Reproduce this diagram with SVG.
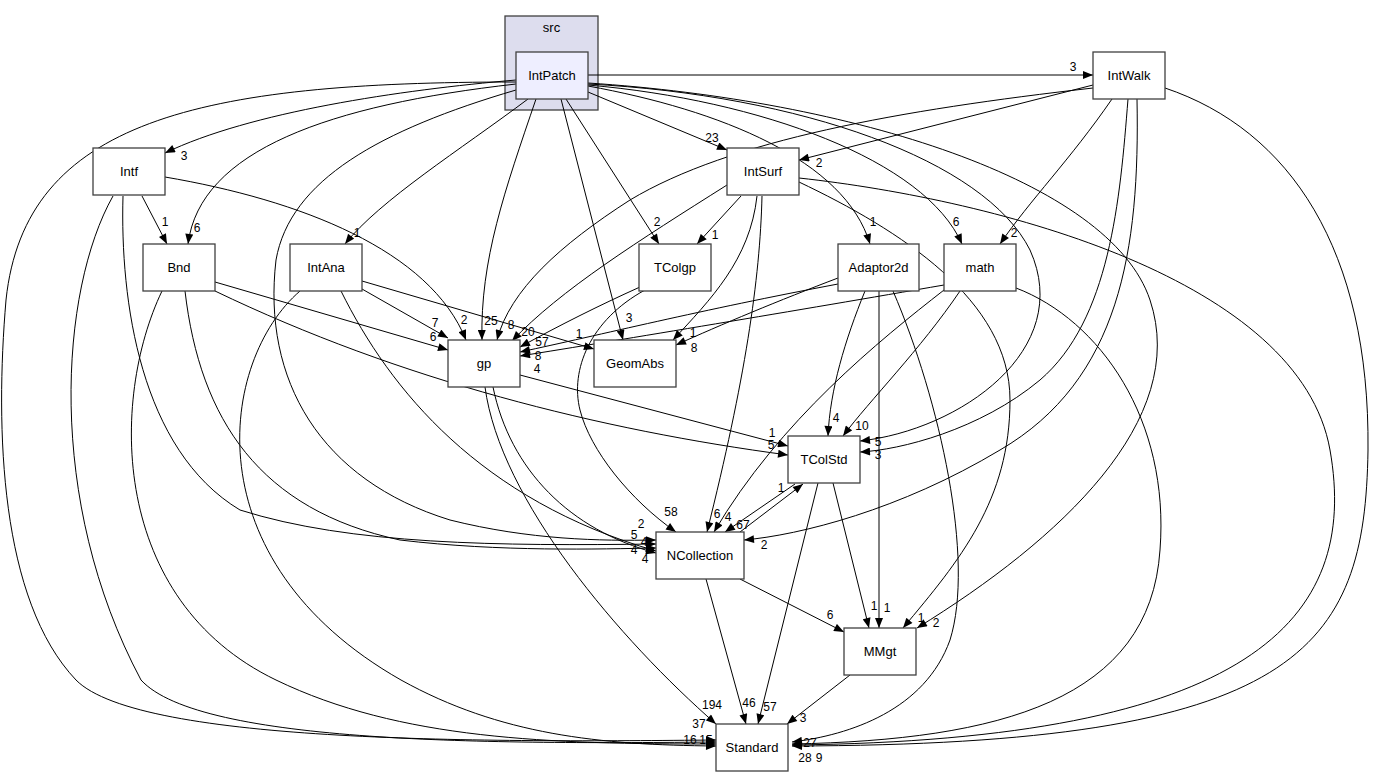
<svg xmlns="http://www.w3.org/2000/svg" width="1376" height="777" viewBox="0 0 1376 777">
<style>
.n rect{fill:#fff;stroke:#404040;stroke-width:1.3}
.n text,.c text{font-family:"Liberation Sans",Arial,sans-serif;font-size:13px;text-anchor:middle;fill:#000}
.e path{fill:none;stroke:#000;stroke-width:1;marker-end:url(#ah)}
.e text{font-family:"Liberation Sans",Arial,sans-serif;font-size:12px;text-anchor:middle;fill:#000}
</style>
<defs>
<marker id="ah" viewBox="0 0 10 8" refX="10" refY="4" markerWidth="11" markerHeight="8" orient="auto" markerUnits="userSpaceOnUse"><path d="M0,0 L10,4 L0,8 z" fill="#000"/></marker>
</defs>
<rect width="1376" height="777" fill="#fff"/>
<g id="cluster_src" class="c">
<rect x="505" y="16" width="93" height="94" fill="#ddddee" stroke="#404040" stroke-width="1.3"/>
<text x="551.5" y="32">src</text>
</g>
<g class="e" id="edges">
<!-- IntPatch -->
<path d="M588,75 L1093,75"/><text x="1073" y="71">3</text>
<path d="M516,80 C400,90 250,112 165,153"/><text x="184" y="160">3</text>
<path d="M516,84 C330,105 200,150 188,244"/><text x="197" y="232">6</text>
<path d="M528,99 C460,150 380,200 345,244"/><text x="357" y="237">1</text>
<path d="M536,99 C505,190 480,260 482,340"/><text x="491" y="325">25</text>
<path d="M561,99 L623,340"/><text x="629" y="322">3</text>
<path d="M566,99 L659,244"/><text x="657" y="226">2</text>
<path d="M588,92 L727,150"/><text x="712" y="142">23</text>
<path d="M588,86 C720,110 845,160 870,244"/><text x="873" y="226">1</text>
<path d="M588,85 C760,100 925,160 962,244"/><text x="956" y="226">6</text>
<path d="M588,84 C800,95 985,160 1030,250 C1075,350 960,430 860,441"/><text x="878" y="446">5</text>
<path d="M588,83 C850,100 1110,180 1150,300 C1190,420 1060,540 917,628"/><text x="936" y="627">2</text>
<path d="M516,90 C380,130 290,180 276,260 C262,380 320,480 450,520 C530,540 600,541 656,540"/><text x="641" y="528">2</text>
<path d="M516,82 C200,82 25,120 6,300 C-5,430 0,600 76,680 C140,745 500,742 716,740"/><text x="699" y="728">37</text>
<!-- IntWalk -->
<path d="M1093,85 L799,160"/><text x="819" y="167">2</text>
<path d="M1112,99 C1070,160 1030,200 1000,244"/><text x="1014" y="237">2</text>
<path d="M1093,88 C900,110 730,140 630,200 C560,245 510,290 497,340"/><text x="511" y="329">8</text>
<path d="M1128,99 C1120,200 1110,320 1040,380 C980,430 900,450 860,452"/><text x="878" y="459">3</text>
<path d="M1137,99 C1140,250 1120,380 1000,450 C900,510 800,535 744,540"/><text x="764" y="549">2</text>
<path d="M1165,88 C1290,130 1370,250 1368,450 C1365,650 1300,745 792,746"/>
<!-- Intf -->
<path d="M142,196 L167,244"/><text x="165" y="226">1</text>
<path d="M165,177 C300,200 430,250 466,340"/><text x="464" y="324">2</text>
<path d="M123,196 C120,300 140,450 240,510 C350,545 500,546 656,544"/><text x="634" y="539">5</text>
<path d="M113,196 C60,290 45,500 141,680 C200,745 500,744 716,742"/>
<!-- Bnd -->
<path d="M215,282 L448,350"/><text x="433" y="341">6</text>
<path d="M215,291 C400,380 600,430 788,455"/><text x="771" y="449">5</text>
<path d="M185,291 C200,420 260,510 400,540 C500,552 600,549 656,548"/><text x="644" y="546">4</text>
<path d="M162,291 C110,400 110,600 276,680 C400,740 550,744 716,744"/>
<!-- IntAna -->
<path d="M362,289 L448,338"/><text x="435" y="327">7</text>
<path d="M362,281 L594,349"/><text x="579" y="338">1</text>
<path d="M341,291 C390,390 480,500 656,551"/><text x="634" y="554">4</text>
<path d="M300,291 C220,360 190,560 401,680 C500,735 600,745 716,746"/><text x="690" y="744">16</text><text x="706" y="744">15</text>
<!-- IntSurf -->
<path d="M741,196 L697,244"/><text x="715" y="239">1</text>
<path d="M757,196 C750,260 710,300 673,340"/><text x="693" y="337">1</text>
<path d="M762,196 C760,280 745,380 707,532"/><text x="717" y="518">6</text>
<path d="M727,185 C640,240 560,290 512,341"/><text x="528" y="336">20</text>
<path d="M799,182 C900,230 1010,300 1010,400 C1010,500 960,560 903,628"/><text x="921" y="622">1</text>
<path d="M799,178 C1000,200 1300,280 1330,450 C1360,620 1250,740 792,745"/><text x="810" y="747">27</text>
<!-- TColgp -->
<path d="M640,287 C600,305 560,325 520,347"/><text x="542" y="346">57</text>
<path d="M645,290 C590,320 570,370 580,410 C590,450 630,500 676,532"/><text x="671" y="516">58</text>
<!-- Adaptor2d -->
<path d="M838,278 C780,300 720,325 676,345"/><text x="694" y="352">8</text>
<path d="M838,284 C700,310 600,335 520,352"/><text x="538" y="360">8</text>
<path d="M865,291 C845,340 830,390 828,436"/><text x="836" y="422">4</text>
<path d="M879,291 L879,628"/><text x="887" y="612">1</text>
<path d="M893,291 C940,400 975,560 950,640 C925,710 850,735 792,742"/><text x="805" y="762">28</text>
<!-- math -->
<path d="M944,285 C800,310 620,340 520,356"/><text x="537" y="373">4</text>
<path d="M960,291 C920,350 870,400 843,436"/><text x="862" y="430">10</text>
<path d="M944,290 C880,340 780,420 714,532"/><text x="728" y="521">4</text>
<path d="M1016,288 C1100,320 1170,420 1160,550 C1150,700 1000,740 792,744"/><text x="819" y="762">9</text>
<!-- gp -->
<path d="M520,375 L788,446"/><text x="772" y="437">1</text>
<path d="M493,387 C510,470 570,530 656,553"/><text x="645" y="563">4</text>
<path d="M485,387 C500,500 620,640 716,724"/><text x="712" y="709">194</text>
<!-- TColStd -->
<path d="M795,484 L725,532"/><text x="743" y="529">67</text>
<path d="M818,483 L758,724"/><text x="770" y="711">57</text>
<path d="M833,483 L869,628"/><text x="874" y="610">1</text>
<!-- NCollection -->
<path d="M740,532 L803,484"/><text x="781" y="492">1</text>
<path d="M706,579 L746,724"/><text x="749" y="707">46</text>
<path d="M740,579 L844,632"/><text x="830" y="619">6</text>
<!-- MMgt -->
<path d="M850,675 L787,724"/><text x="803" y="722">3</text>
</g>
<g id="IntPatch" class="n"><rect x="516" y="52" width="72" height="47" style="fill:#eeeeff"/><text x="552" y="80">IntPatch</text></g>
<g id="IntWalk" class="n"><rect x="1093" y="52" width="72" height="47"/><text x="1129" y="80">IntWalk</text></g>
<g id="Intf" class="n"><rect x="93" y="148" width="72" height="47"/><text x="129" y="176">Intf</text></g>
<g id="IntSurf" class="n"><rect x="727" y="148" width="72" height="47"/><text x="763" y="176">IntSurf</text></g>
<g id="Bnd" class="n"><rect x="143" y="244" width="72" height="47"/><text x="179" y="272">Bnd</text></g>
<g id="IntAna" class="n"><rect x="290" y="244" width="72" height="47"/><text x="326" y="272">IntAna</text></g>
<g id="TColgp" class="n"><rect x="639" y="244" width="72" height="47"/><text x="675" y="272">TColgp</text></g>
<g id="Adaptor2d" class="n"><rect x="838" y="244" width="81" height="47"/><text x="878.5" y="272">Adaptor2d</text></g>
<g id="math" class="n"><rect x="944" y="244" width="72" height="47"/><text x="980" y="272">math</text></g>
<g id="gp" class="n"><rect x="448" y="340" width="72" height="47"/><text x="484" y="368">gp</text></g>
<g id="GeomAbs" class="n"><rect x="594" y="340" width="82" height="47"/><text x="635" y="368">GeomAbs</text></g>
<g id="TColStd" class="n"><rect x="788" y="436" width="72" height="47"/><text x="824" y="464">TColStd</text></g>
<g id="NCollection" class="n"><rect x="656" y="532" width="88" height="47"/><text x="700" y="560">NCollection</text></g>
<g id="MMgt" class="n"><rect x="844" y="628" width="72" height="47"/><text x="880" y="656">MMgt</text></g>
<g id="Standard" class="n"><rect x="716" y="724" width="72" height="47"/><text x="752" y="752">Standard</text></g>
</svg>
